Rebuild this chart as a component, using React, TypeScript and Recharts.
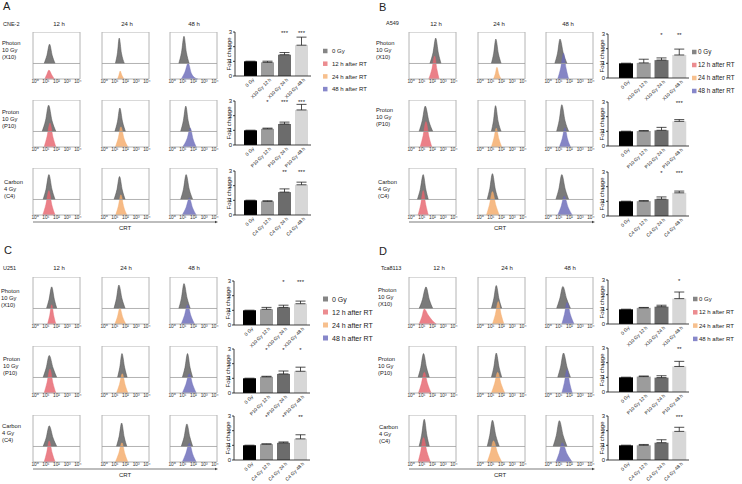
import React from 'react';
import {
  AreaChart, Area, XAxis, YAxis, ReferenceLine, ReferenceArea,
  BarChart, Bar, Cell, ErrorBar, LabelList,
} from 'recharts';

const FONT = '"Liberation Sans", Arial, Helvetica, sans-serif';
const MID = 0.33; // baseline of the 0 Gy trace inside each histogram box

// ---------- labels ----------
const cellLines = ['CNE-2', 'A549', 'U251', 'Tca8113'];
const panelLetters = ['A', 'B', 'C', 'D'];
const timeLabels = ['12 h', '24 h', '48 h'];
const rowLabels = [
  ['Photon', '10 Gy', '(X10)'],
  ['Proton', '10 Gy', '(P10)'],
  ['Carbon', '4 Gy', '(C4)'],
];
const legendLabels = ['0 Gy', '12 h after RT', '24 h after RT', '48 h after RT'];
const decadeTicks = [0, 1, 2, 3, 4];
const decadeLabels = ['10⁰', '10¹', '10²', '10³', '10⁴'];
const foldTicks = [0, 1, 2, 3];
const barNamesX10 = ['0 Gy', 'X10 Gy 12 h', 'X10 Gy 24 h', 'X10 Gy 48 h'];
const barNamesP10 = ['0 Gy', 'P10 Gy 12 h', 'P10 Gy 24 h', 'P10 Gy 48 h'];
const barNamesC4 = ['0 Gy', 'C4 Gy 12 h', 'C4 Gy 24 h', 'C4 Gy 48 h'];
const barNames = [barNamesX10, barNamesP10, barNamesC4];

// ---------- fold change (mean, upper SD, significance) ----------
const foldA = [[1, 0.93, 1.45, 2.1], [1, 1.1, 1.43, 2.39], [1, 0.93, 1.56, 2.06]];
const errA = [[0, 0.08, 0.15, 0.55], [0, 0.05, 0.13, 0.38], [0, 0.04, 0.22, 0.18]];
const starsA = [['', '', '***', '***'], ['', '*', '***', '***'], ['', '', '**', '***']];

const foldB = [[1, 1.03, 1.22, 1.57], [1, 1.02, 1.07, 1.68], [1, 1.01, 1.15, 1.58]];
const errB = [[0, 0.25, 0.15, 0.4], [0, 0.03, 0.2, 0.12], [0, 0.04, 0.15, 0.12]];
const starsB = [['', '', '*', '**'], ['', '', '', '***'], ['', '', '*', '***']];

const foldC = [[1, 1.07, 1.2, 1.45], [1, 1.1, 1.3, 1.48], [1, 1.08, 1.17, 1.44]];
const errC = [[0, 0.13, 0.15, 0.18], [0, 0.04, 0.2, 0.28], [0, 0.02, 0.06, 0.28]];
const starsC = [['', '', '*', '***'], ['', '*', '*', '*'], ['', '*', '*', '**']];

const foldD = [[1, 1.1, 1.18, 1.73], [1, 1.05, 0.98, 1.74], [1, 1.0, 1.18, 1.95]];
const errD = [[0, 0.03, 0.1, 0.45], [0, 0.04, 0.13, 0.35], [0, 0.06, 0.2, 0.28]];
const starsD = [['', '', '', '*'], ['', '', '', '**'], ['', '', '', '***']];

// ---------- CRT histograms: [log decade, height] outline points ----------
// g = 0 Gy trace (height above the box midline), c = irradiated trace
type Peak = number[][];
type HistCell = { g: Peak; c: Peak };

const histA: HistCell[][] = [
  [
    { g: [[0.84, 0], [1.1, 0.17], [1.35, 0.41], [1.6, 0.17], [1.87, 0]], c: [[0.9, 0], [1.1, 0.1], [1.29, 0.19], [1.55, 0.09], [1.8, 0]] },
    { g: [[1.05, 0], [1.25, 0.23], [1.41, 0.54], [1.62, 0.22], [1.9, 0]], c: [[1.25, 0], [1.38, 0.08], [1.5, 0.17], [1.66, 0.08], [1.87, 0]] },
    { g: [[0.62, 0], [0.88, 0.24], [1.11, 0.58], [1.33, 0.24], [1.6, 0]], c: [[0.85, 0], [1.2, 0.15], [1.5, 0.34], [1.8, 0.12], [2.1, 0.03], [2.4, 0]] },
  ],
  [
    { g: [[0.65, 0], [0.98, 0.24], [1.26, 0.56], [1.58, 0.23], [1.95, 0]], c: [[0.84, 0], [1.12, 0.23], [1.39, 0.51], [1.66, 0.22], [1.95, 0]] },
    { g: [[1.0, 0], [1.25, 0.21], [1.47, 0.5], [1.72, 0.21], [2.0, 0]], c: [[1.05, 0], [1.32, 0.19], [1.57, 0.43], [1.88, 0.17], [2.23, 0]] },
    { g: [[0.79, 0], [1.05, 0.23], [1.28, 0.54], [1.5, 0.23], [1.77, 0]], c: [[0.98, 0], [1.4, 0.18], [1.7, 0.4], [1.96, 0.17], [2.26, 0]] },
  ],
  [
    { g: [[0.74, 0], [1.02, 0.22], [1.29, 0.53], [1.57, 0.22], [1.87, 0]], c: [[0.71, 0], [1.0, 0.22], [1.29, 0.52], [1.56, 0.22], [1.87, 0]] },
    { g: [[0.92, 0], [1.2, 0.21], [1.44, 0.49], [1.7, 0.2], [1.97, 0]], c: [[1.08, 0], [1.33, 0.19], [1.57, 0.43], [1.84, 0.17], [2.13, 0]] },
    { g: [[0.79, 0], [1.06, 0.22], [1.31, 0.53], [1.6, 0.22], [1.93, 0]], c: [[0.95, 0], [1.3, 0.16], [1.61, 0.36], [1.92, 0.15], [2.26, 0]] },
  ],
];

const histB: HistCell[][] = [
  [
    { g: [[1.75, 0], [2.05, 0.23], [2.3, 0.54], [2.55, 0.22], [2.8, 0]], c: [[1.65, 0], [1.95, 0.22], [2.2, 0.49], [2.42, 0.2], [2.62, 0]] },
    { g: [[1.05, 0], [1.27, 0.22], [1.47, 0.52], [1.7, 0.22], [1.97, 0]], c: [[1.25, 0], [1.42, 0.11], [1.57, 0.25], [1.76, 0.1], [1.97, 0]] },
    { g: [[0.62, 0], [0.88, 0.22], [1.11, 0.52], [1.42, 0.22], [1.77, 0]], c: [[0.89, 0], [1.18, 0.24], [1.44, 0.55], [1.68, 0.23], [1.93, 0]] },
  ],
  [
    { g: [[0.74, 0], [1.04, 0.23], [1.32, 0.54], [1.66, 0.22], [2.03, 0]], c: [[0.84, 0], [1.12, 0.24], [1.39, 0.54], [1.66, 0.23], [1.94, 0]] },
    { g: [[1.05, 0], [1.25, 0.23], [1.44, 0.55], [1.68, 0.22], [1.97, 0]], c: [[1.05, 0], [1.28, 0.18], [1.51, 0.4], [1.76, 0.17], [2.03, 0]] },
    { g: [[0.79, 0], [1.04, 0.24], [1.28, 0.57], [1.58, 0.23], [1.93, 0]], c: [[1.05, 0], [1.32, 0.18], [1.57, 0.41], [1.82, 0.17], [2.1, 0]] },
  ],
  [
    { g: [[0.58, 0], [0.86, 0.22], [1.13, 0.53], [1.37, 0.22], [1.61, 0]], c: [[0.65, 0], [0.9, 0.23], [1.13, 0.52], [1.37, 0.22], [1.61, 0]] },
    { g: [[0.66, 0], [0.9, 0.23], [1.15, 0.55], [1.42, 0.22], [1.7, 0]], c: [[0.59, 0], [0.87, 0.22], [1.15, 0.5], [1.47, 0.21], [1.8, 0]] },
    { g: [[0.72, 0], [1.0, 0.22], [1.28, 0.53], [1.6, 0.22], [1.93, 0]], c: [[0.89, 0], [1.2, 0.17], [1.51, 0.4], [1.88, 0.16], [2.26, 0]] },
  ],
];

const histC: HistCell[][] = [
  [
    { g: [[1.06, 0], [1.3, 0.19], [1.55, 0.46], [1.8, 0.19], [2.03, 0]], c: [[1.16, 0], [1.36, 0.18], [1.55, 0.41], [1.75, 0.17], [1.94, 0]] },
    { g: [[0.92, 0], [1.15, 0.21], [1.38, 0.5], [1.68, 0.2], [1.97, 0]], c: [[1.0, 0], [1.24, 0.15], [1.47, 0.34], [1.75, 0.14], [2.03, 0]] },
    { g: [[0.62, 0], [0.87, 0.22], [1.11, 0.53], [1.4, 0.22], [1.7, 0]], c: [[0.85, 0], [1.15, 0.18], [1.44, 0.41], [1.77, 0.17], [2.1, 0]] },
  ],
  [
    { g: [[0.74, 0], [1.03, 0.2], [1.32, 0.47], [1.68, 0.2], [2.03, 0]], c: [[0.84, 0], [1.12, 0.23], [1.39, 0.51], [1.66, 0.22], [1.94, 0]] },
    { g: [[1.25, 0], [1.46, 0.21], [1.67, 0.51], [1.92, 0.21], [2.16, 0]], c: [[1.15, 0], [1.43, 0.18], [1.7, 0.41], [1.97, 0.17], [2.23, 0]] },
    { g: [[0.95, 0], [1.2, 0.21], [1.44, 0.51], [1.68, 0.21], [1.93, 0]], c: [[0.95, 0], [1.28, 0.18], [1.61, 0.41], [1.94, 0.17], [2.26, 0]] },
  ],
  [
    { g: [[0.74, 0], [1.03, 0.18], [1.32, 0.44], [1.68, 0.18], [2.03, 0]], c: [[0.84, 0], [1.08, 0.2], [1.32, 0.45], [1.6, 0.19], [1.87, 0]] },
    { g: [[1.15, 0], [1.4, 0.21], [1.64, 0.5], [1.88, 0.2], [2.13, 0]], c: [[1.05, 0], [1.36, 0.18], [1.67, 0.41], [1.95, 0.17], [2.23, 0]] },
    { g: [[0.85, 0], [1.12, 0.2], [1.38, 0.48], [1.66, 0.2], [1.93, 0]], c: [[0.95, 0], [1.28, 0.18], [1.61, 0.4], [1.94, 0.16], [2.26, 0]] },
  ],
];

const histD: HistCell[][] = [
  [
    { g: [[0.74, 0], [1.06, 0.19], [1.3, 0.42], [1.39, 0.46], [1.7, 0.19], [2.03, 0]], c: [[0.74, 0], [1.0, 0.15], [1.23, 0.32], [1.6, 0.19], [2.0, 0.07], [2.35, 0]] },
    { g: [[1.05, 0], [1.28, 0.21], [1.51, 0.49], [1.77, 0.2], [2.03, 0]], c: [[1.15, 0], [1.43, 0.21], [1.7, 0.48], [1.97, 0.2], [2.23, 0]] },
    { g: [[0.79, 0], [1.08, 0.2], [1.38, 0.47], [1.74, 0.2], [2.1, 0]], c: [[1.28, 0], [1.52, 0.2], [1.77, 0.46], [2.1, 0.19], [2.43, 0]] },
  ],
  [
    { g: [[0.65, 0], [0.9, 0.21], [1.16, 0.51], [1.44, 0.21], [1.71, 0]], c: [[0.68, 0], [0.96, 0.2], [1.23, 0.44], [1.55, 0.19], [1.87, 0]] },
    { g: [[1.05, 0], [1.28, 0.22], [1.51, 0.52], [1.77, 0.22], [2.03, 0]], c: [[1.05, 0], [1.35, 0.2], [1.64, 0.44], [1.97, 0.19], [2.3, 0]] },
    { g: [[0.89, 0], [1.16, 0.22], [1.44, 0.52], [1.77, 0.22], [2.1, 0]], c: [[1.28, 0], [1.52, 0.22], [1.77, 0.5], [2.02, 0.21], [2.26, 0]] },
  ],
  [
    { g: [[0.74, 0], [0.98, 0.24], [1.23, 0.58], [1.47, 0.24], [1.71, 0]], c: [[0.65, 0], [0.9, 0.23], [1.16, 0.52], [1.48, 0.22], [1.81, 0]] },
    { g: [[0.66, 0], [0.9, 0.24], [1.15, 0.56], [1.47, 0.23], [1.8, 0]], c: [[0.66, 0], [0.96, 0.2], [1.25, 0.45], [1.64, 0.19], [2.03, 0]] },
    { g: [[0.46, 0], [0.76, 0.23], [1.05, 0.55], [1.41, 0.23], [1.77, 0]], c: [[0.72, 0], [1.02, 0.18], [1.31, 0.41], [1.78, 0.17], [2.26, 0]] },
  ],
];

// ---------- colours ----------
const grayFill = '#7a7a7a';
const traceColors = ['#e6646e', '#f4ab6a', '#6a6ab8'];
const barColors = ['#000000', '#9c9c9c', '#6c6c6c', '#d7d7d7'];
const legendColors = ['#858585', '#ec8c90', '#f7c08e', '#8787ca'];

// ---------- layout ----------
const layouts = [
  {
    letter: [3, 9.5], cell: [3, 25.5], heads: [59, 127, 194], headY: 26,
    rowX: [2, 2, 4], rowY: [44.5, 114, 184],
    cols: [33, 102, 170], rows: [32, 100, 168],
    arrow: [33, 218, 222], crt: [125, 230],
    axisX: 235, barTops: [32, 101, 171], plotW: 76, padL: 7, barSize: 13,
    legend: { x: 323, y: 51, gap: 12.7, font: 6, sq: 4.5, tx: 9 },
  },
  {
    letter: [379, 11], cell: [386, 25], heads: [436, 499, 568], headY: 26,
    rowX: [376, 376, 378], rowY: [45, 112, 184],
    cols: [409, 478, 546], rows: [32, 100, 168],
    arrow: [409, 595, 222], crt: [500, 230],
    axisX: 608, barTops: [34, 102, 172], plotW: 81, padL: 9, barSize: 14,
    legend: { x: 692, y: 52, gap: 13, font: 6.3, sq: 4.5, tx: 6 },
  },
  {
    letter: [4, 254], cell: [3, 270], heads: [59, 126, 194], headY: 270,
    rowX: [1, 3, 2], rowY: [293, 361, 428],
    cols: [33, 102, 170], rows: [277, 346, 415],
    arrow: [33, 218, 469], crt: [125, 477],
    axisX: 234, barTops: [281, 349, 416], plotW: 76, padL: 7, barSize: 13,
    legend: { x: 323, y: 299, gap: 13, font: 7, sq: 5, tx: 9 },
  },
  {
    letter: [379, 255], cell: [381, 270], heads: [439, 507, 570], headY: 270,
    rowX: [378, 378, 379], rowY: [292, 361, 429],
    cols: [409, 478, 546], rows: [277, 346, 415],
    arrow: [409, 595, 469], crt: [500, 477],
    axisX: 608, barTops: [280, 348, 416], plotW: 81, padL: 9, barSize: 14,
    legend: { x: 693, y: 299, gap: 13.3, font: 6, sq: 4.5, tx: 6 },
  },
];

const panelData = [
  { hist: histA, fold: foldA, err: errA, stars: starsA },
  { hist: histB, fold: foldB, err: errB, stars: starsB },
  { hist: histC, fold: foldC, err: errC, stars: starsC },
  { hist: histD, fold: foldD, err: errD, stars: starsD },
];

const BOX = 47;
const SIDE = 4; // room either side of a histogram box for its tick labels
const BAR_TOP = 10;
const PLOT_H = 44;

function traceRows(cell: HistCell) {
  const rows: any[] = [];
  cell.g.forEach(([x, h]) => rows.push({ x, g: [MID, MID + h] }));
  cell.c.forEach(([x, h]) => rows.push({ x, c: [0, h] }));
  return rows.sort((a, b) => a.x - b.x);
}

function Histogram({ cell, color, left, top }: { cell: HistCell; color: string; left: number; top: number }) {
  return (
    <div style={{ position: 'absolute', left: left - SIDE, top }}>
      <AreaChart width={BOX + 2 * SIDE} height={BOX + 7} data={traceRows(cell)}
        margin={{ top: 0, right: SIDE, bottom: 0, left: SIDE }}>
        <XAxis
          dataKey="x" type="number" domain={[-0.2, 4.2]} ticks={decadeTicks} interval={0}
          tickFormatter={(v: number) => decadeLabels[v]} axisLine={false} tickLine={false}
          tickSize={0} tickMargin={1} height={7}
          tick={{ fontSize: 4.8, fill: '#333', fontFamily: FONT }}
        />
        <YAxis hide domain={[0, 1]} />
        <ReferenceLine y={MID} stroke="#a0a0a0" strokeWidth={0.8} />
        <Area dataKey="g" type="monotone" connectNulls fill={grayFill} fillOpacity={1} stroke="#4f4f4f" strokeWidth={0.5} isAnimationActive={false} />
        <Area dataKey="c" type="monotone" connectNulls fill={color} fillOpacity={0.82} stroke={color} strokeWidth={0.4} isAnimationActive={false} />
        <ReferenceArea x1={-0.2} x2={4.2} y1={0} y2={1} fill="none" stroke="#b4b4b4" strokeWidth={1} />
      </AreaChart>
    </div>
  );
}

const RotTick = (props: any) => {
  const { x, y, payload } = props;
  const ax = x + 4;
  const ay = y + 4;
  return (
    <text x={ax} y={ay} transform={`rotate(-45 ${ax} ${ay})`} textAnchor="end" fontSize={4.8} fill="#222" fontFamily={FONT}>
      {payload.value}
    </text>
  );
};

const StarLabel = (props: any) => {
  const { x, width, value } = props;
  if (!value) return null;
  return (
    <text x={Number(x) + Number(width) / 2} y={BAR_TOP + 2.5} textAnchor="middle" fontSize={6} fill="#222" fontFamily={FONT}>
      {value}
    </text>
  );
};

function FoldBars({ names, values, errs, stars, left, top, plotW, padL, barSize }: any) {
  const data = names.map((name: string, i: number) => ({ name, v: values[i], e: [0, errs[i]], s: stars[i] }));
  return (
    <div style={{ position: 'absolute', left, top }}>
      <BarChart width={16 + plotW + 3} height={BAR_TOP + PLOT_H + 32} data={data} barSize={barSize}
        margin={{ top: BAR_TOP, right: 3, bottom: 0, left: 0 }}>
        <XAxis dataKey="name" interval={0} tick={<RotTick />} tickLine={false} tickSize={0} tickMargin={0}
          axisLine={{ stroke: '#111', strokeWidth: 0.8 }} height={32} padding={{ left: padL, right: 1 }} />
        <YAxis domain={[0, 3]} ticks={foldTicks} width={16} tickSize={2} tickMargin={1}
          axisLine={{ stroke: '#111', strokeWidth: 0.8 }} tickLine={{ stroke: '#111', strokeWidth: 0.8 }}
          tick={{ fontSize: 6, fill: '#222', fontFamily: FONT }}
          label={{ value: 'Fold change', angle: -90, position: 'insideLeft', offset: 9.5,
            style: { textAnchor: 'middle', fontSize: 6, fill: '#222', fontFamily: FONT } }} />
        <Bar dataKey="v" isAnimationActive={false}>
          {data.map((_: any, i: number) => <Cell key={i} fill={barColors[i]} />)}
          <ErrorBar dataKey="e" direction="y" width={5} stroke="#222" strokeWidth={0.8} />
          <LabelList dataKey="s" content={StarLabel} />
        </Bar>
      </BarChart>
    </div>
  );
}

function Decorations() {
  return (
    <svg width={742} height={484} style={{ position: 'absolute', left: 0, top: 0 }}>
      {layouts.map((L, p) => (
        <g key={p} fontFamily={FONT} fill="#222">
          <text x={L.letter[0]} y={L.letter[1]} fontSize={11}>{panelLetters[p]}</text>
          <text x={L.cell[0]} y={L.cell[1]} fontSize={5.5}>{cellLines[p]}</text>
          {timeLabels.map((t, i) => (
            <text key={t} x={L.heads[i]} y={L.headY} fontSize={6} textAnchor="middle">{t}</text>
          ))}
          {rowLabels.map((lines, r) => lines.map((s, k) => (
            <text key={`${r}-${k}`} x={L.rowX[r]} y={L.rowY[r] + k * 7} fontSize={5.8}>{s}</text>
          )))}
          <line x1={L.arrow[0]} x2={L.arrow[1] - 2} y1={L.arrow[2]} y2={L.arrow[2]} stroke="#444" strokeWidth={0.7} />
          <polygon points={`${L.arrow[1]},${L.arrow[2]} ${L.arrow[1] - 3},${L.arrow[2] - 1.3} ${L.arrow[1] - 3},${L.arrow[2] + 1.3}`} fill="#444" />
          <text x={L.crt[0]} y={L.crt[1]} fontSize={6} textAnchor="middle">CRT</text>
          {legendLabels.map((s, i) => {
            const cy = L.legend.y + i * L.legend.gap;
            return (
              <g key={s}>
                <rect x={L.legend.x} y={cy - L.legend.sq / 2} width={L.legend.sq} height={L.legend.sq} fill={legendColors[i]} />
                <text x={L.legend.x + L.legend.tx} y={cy + L.legend.font * 0.36} fontSize={L.legend.font}>{s}</text>
              </g>
            );
          })}
        </g>
      ))}
    </svg>
  );
}

export default function App() {
  return (
    <div style={{ position: 'absolute', left: 0, top: 0, width: 742, height: 484, background: '#fff', overflow: 'hidden' }}>
      <Decorations />
      {layouts.map((L, p) => {
        const D = panelData[p];
        return (
          <React.Fragment key={p}>
            {D.hist.map((row, r) => row.map((cell, c) => (
              <Histogram key={`h${r}${c}`} cell={cell} color={traceColors[c]} left={L.cols[c]} top={L.rows[r]} />
            )))}
            {D.fold.map((vals, r) => (
              <FoldBars key={`b${r}`} names={barNames[r]} values={vals} errs={D.err[r]} stars={D.stars[r]}
                left={L.axisX - 16} top={L.barTops[r] - BAR_TOP} plotW={L.plotW} padL={L.padL} barSize={L.barSize} />
            ))}
          </React.Fragment>
        );
      })}
    </div>
  );
}
